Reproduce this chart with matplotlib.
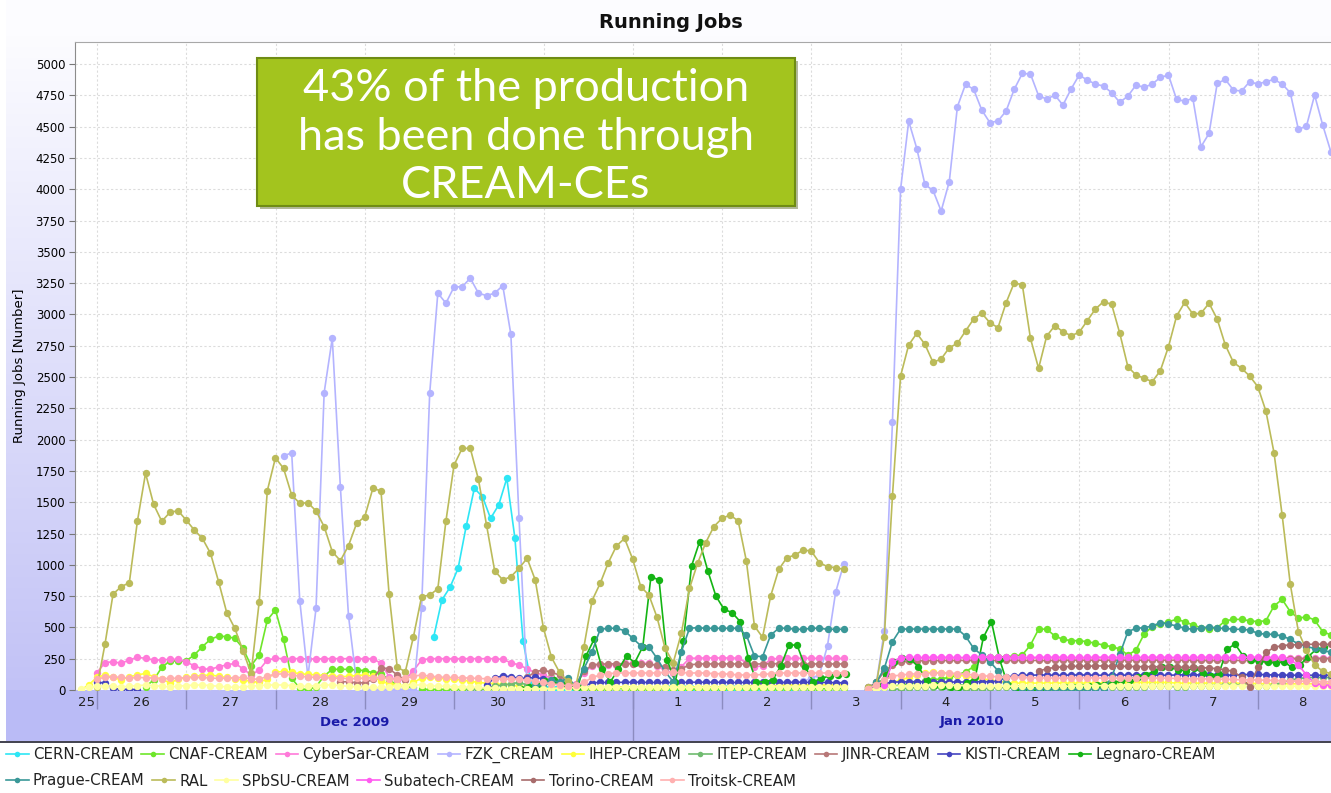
import numpy as np
import matplotlib
matplotlib.use("Agg")
import matplotlib.pyplot as plt
from matplotlib.lines import Line2D
from matplotlib.patches import Rectangle

# sampling grid: days since Dec 25 00:00, one point every 24/11 h
T0 = 0.8163
DT = 1.0 / 11

# each series: list of (start index on the grid, values)
CERN = [(43.5, [426, 719, 820, 972, 1310, 1611, 1544, 1371, 1478, 1691, 1211, 391, 53, 10, 5, 5, 3, 2]),
        (72.2, [12, 14, 14, 15, 15, 15, 14, 14, 15, 15, 14, 14, 14, 12, 12, 10])]

CNAF = [(8, [27, 80, 181, 232, 232, 232, 280, 346, 405, 431, 426, 413, 333, 194, 280, 559, 639,
             405, 93, 14, 0, 27, 112, 165, 165, 165, 160, 155, 138, 130, 80, 40, 27, 20]),
        (42, [5, 5, 5, 5, 5, 5, 5, 5, 5, 5, 5, 5, 5, 20, 40, 66, 100, 66, 32, 15]),
        (62, [10, 8, 8, 10, 12, 10, 8, 8, 10, 10, 12, 10, 10, 8, 8, 10, 10, 10, 12, 12, 10,
              10, 8, 8, 10, 10, 12, 12, 10, 10, 10, 12, 12]),
        (97, [5, 10, 20, 30, 40, 50, 60, 70, 80, 90, 100,
              120, 146, 186, 261, 261, 261, 266, 272, 280, 359, 485, 487, 431, 405, 394, 394,
              386, 373, 359, 346, 328, 280, 319, 447, 506, 527, 546, 564, 546, 519, 498, 485,
              498, 553, 564, 564, 553, 546, 553, 671, 724, 626, 572, 586, 559, 466, 440])]

CYBERSAR = [(2, [138, 218, 226, 213, 240, 261, 253, 240, 240, 245, 245, 226, 192, 170, 165, 186,
                 200, 213, 170, 120, 160, 240, 253,
                 250, 250, 250, 248, 248, 250, 250, 250, 250, 250, 250, 250,
                 213, 106, 80, 85, 154, 240,
                 250, 250, 250, 250, 250, 250, 250, 250, 250,
                 245, 218, 200, 170, 138, 120, 93, 66, 53, 48, 138, 192,
                 200, 200, 200, 213, 213, 213, 213, 192, 154, 138, 186,
                 253, 255, 256, 256, 256, 256, 255, 218, 186, 192, 245,
                 253, 253, 253, 253, 253, 253, 253, 253, 253]),
            (99, [60, 234, 253, 255, 256, 256, 256, 255, 255, 256, 256, 256, 255, 255, 256, 256,
                  256, 256, 255, 255, 256, 256, 256, 255, 255, 256, 256, 256, 256, 255, 255, 256,
                  256, 256, 255, 255, 256, 256, 256, 256, 255, 255, 256, 256, 256, 255, 255, 256,
                  256, 256, 256, 255, 255, 256, 256, 256])]

FZK = [(25, [1869, 1895, 711, 106, 652, 2375, 2810, 1619, 591, 58, 5, 5, 5, 5, 5, 5, 5, 652, 2370,
             3170, 3090, 3220, 3220, 3290, 3170, 3150, 3170, 3230, 2840, 1376, 30]),
       (86, [50, 53, 57, 70, 93, 120, 354, 780, 1006]),
       (97, [20, 48, 474, 2143,
             3999, 4543, 4325, 4038, 3990, 3826, 4060, 4659, 4838, 4798, 4633, 4532, 4545, 4625,
             4798, 4925, 4920, 4747, 4720, 4752, 4672, 4800, 4912, 4872, 4840, 4824, 4771, 4694,
             4744, 4832, 4814, 4840, 4893, 4912, 4717, 4704, 4726, 4339, 4446, 4845, 4877, 4792,
             4784, 4859, 4840, 4859, 4877, 4840, 4771, 4478, 4505, 4752, 4512, 4300])]

IHEP = [(0, [0, 40, 101, 120, 101, 80, 106, 120, 133, 106, 85, 58, 85, 100, 110, 115, 120, 110,
             100, 90, 80, 70, 60, 90, 140, 150, 140, 130, 125, 120, 115, 110, 105, 110, 115, 120,
             110, 70, 50, 40, 30, 60, 95, 100, 95, 90, 85, 80, 70, 60, 55, 50, 45, 40, 30, 20,
             15, 10, 10, 15, 20, 25, 25, 20, 20, 20, 25, 25, 25, 20, 20, 20, 20, 25, 25, 25, 25,
             25, 25, 25, 25, 25, 30, 30, 30, 30, 35, 40, 40, 40, 40, 40, 40, 40, 40]),
        (97, [5, 20, 40, 60, 80, 100, 120, 136, 140, 136, 130, 120, 110, 100, 90, 80, 70, 60, 55,
              55, 55, 55, 55, 55, 55, 55, 55, 55, 55, 55, 55, 60, 60, 60, 60, 60, 60, 60, 55, 55,
              55, 55, 55, 55, 55, 55, 55, 55, 50, 50, 50, 50, 50, 50, 50, 50, 50, 50])]

ITEP = [(48, [5, 10, 20, 30, 40, 50, 60, 40, 20, 10, 5]),
        (100, [5, 10, 15, 20, 20, 25, 25, 20, 15, 10, 10, 10, 15, 20, 20, 20, 25, 25, 20, 20, 15,
               15, 20, 20, 25, 25, 25, 20, 20, 20, 25, 25, 30, 30, 30, 25, 25, 30, 30, 35, 35, 40,
               40, 40, 35, 30, 30, 40, 60, 80, 90, 100, 100, 100, 100])]

JINR = [(32, [66, 66, 58, 58, 85, 178, 170, 120, 80]),
        (55, [100, 146, 160, 140, 120, 60, 40, 150, 200, 208, 208, 210, 210, 208, 208, 205, 200,
              180, 160, 170, 200, 208, 208, 208, 208, 208, 208, 208, 208, 208, 210, 210, 210, 208,
              208, 208, 208, 208, 208, 208]),
        (97, [20, 60, 150, 200, 220, 230, 232, 234, 235, 236, 236, 236, 236, 236, 236, 236, 236,
              236, 236, 236, 236, 236, 236, 236, 236, 238, 238, 238, 238, 238, 238, 238, 238, 238,
              238, 238, 238, 238, 238, 238, 238, 236, 236, 236, 236, 236, 236, 236, 236, 240, 245,
              250, 250, 250, 250, 250, 250, 250])]

KISTI = [(2, [66, 53, 13, 5, 5, 3]),
         (50, [40, 98, 112, 106, 93, 95, 100, 90, 70, 50, 30, 20, 30, 58,
               60, 60, 60, 62, 62, 62, 60, 60, 60, 60, 60, 62, 62, 62, 62, 62, 60, 60, 60, 60, 60,
               60, 60, 62, 62, 62, 60, 60, 60, 58, 58]),
         (97, [10, 30, 50, 64, 64, 66, 66, 66, 66, 64, 64, 64, 64, 66, 66, 66, 70, 100, 115, 118,
               118, 120, 120, 118, 118, 120, 120, 120, 118, 118, 120, 120, 118, 118, 120, 120, 118,
               118, 120, 122, 122, 120, 120, 118, 118, 120, 122, 124, 124, 122, 120, 120, 118, 118,
               118, 118, 118, 118])]

LEGNARO = [(54.25, [10, 20, 40, 70, 80, 50, 30, 20,
                    272, 405, 165, 66, 165, 272, 218, 346, 905, 879, 240, 63, 391, 990, 1185, 953,
                    751, 645, 618, 546, 253, 66, 66, 80, 192, 359, 359, 186, 66, 93, 112, 120, 128]),
           (98.2, [40, 120, 226, 253, 245, 186, 80, 40, 30, 25, 25, 53, 101, 421, 546, 245, 40, 13,
                   10, 10, 10, 15, 15, 20, 20, 25, 30, 40, 50, 60, 70, 80, 100, 120, 150, 180, 185,
                   160, 154, 178, 133, 112, 128, 325, 367, 272, 240, 226, 226, 213, 226, 181, 200,
                   266, 325, 340])]

PRAGUE = [(56, [30, 50, 80, 60, 98, 30, 170, 306,
                485, 493, 493, 474, 413, 354, 346, 253, 146, 66, 306, 493, 498, 493, 493, 493, 493,
                493, 439, 272, 266, 439, 493, 493, 485, 485, 493, 493, 485, 485, 485]),
          (97, [10, 60, 173, 386, 487, 487, 487, 487, 487, 487, 487, 487, 431, 333, 280, 226, 154,
                53, 20, 10, 10, 10, 10, 10, 10, 10, 10, 10, 10, 10, 100, 285, 466, 493, 498, 511,
                538, 527, 511, 493, 485, 493, 506, 493, 493, 485, 485, 479, 453, 445, 445, 431,
                405, 367, 346, 333, 319, 300])]

RAL = [(2, [20, 365, 767, 825, 857, 1350, 1731, 1482, 1347, 1419, 1432, 1358, 1278, 1211, 1092,
            865, 618, 492, 314, 133, 705, 1592, 1855, 1770, 1557, 1491, 1496, 1430, 1305, 1105,
            1033, 1153, 1331, 1384, 1611, 1590, 764, 181, 147, 426, 745, 759, 807, 1350, 1797,
            1930, 1930, 1683, 1318, 953, 879, 905, 972, 1052, 879, 498, 261, 140, 70, 30,
            346, 714, 852, 1017, 1150, 1211, 1046, 825, 759, 581, 333, 218, 453, 812, 1012, 1177,
            1305, 1371, 1398, 1350, 1033, 511, 421, 751, 964, 1057, 1078, 1118, 1110, 1017, 985,
            977, 964]),
       (97, [20, 40, 426, 1550, 2508, 2756, 2849, 2761, 2617, 2644, 2734, 2769, 2867, 2963, 3009,
             2934, 2894, 3093, 3253, 3235, 2809, 2569, 2827, 2910, 2862, 2830, 2857, 2950, 3043,
             3102, 3080, 2849, 2582, 2516, 2490, 2463, 2551, 2742, 2987, 3096, 3003, 3009, 3089,
             2963, 2756, 2617, 2569, 2508, 2423, 2228, 1895, 1398, 847, 466, 319, 200, 150, 130])]

SPBSU = [(0, [10, 20, 30, 35, 30, 25, 30, 35, 40, 35, 30, 25, 30, 35, 40, 40, 35, 30, 25, 20, 25,
              30, 35, 40, 40, 40, 35, 30, 30, 35, 40, 40, 35, 30, 25, 20, 20, 20, 25, 30, 35, 40,
              40, 35, 30, 30, 25, 25, 20, 20, 15, 15, 10, 10, 10, 10, 10, 10, 10, 15, 15, 20, 20,
              20, 20, 20, 20, 20, 20, 20, 20, 20, 20, 20, 20, 20, 20, 20, 20, 20, 25, 25, 25, 25,
              25, 25, 25, 25, 25, 25, 25, 25, 25, 25, 25]),
         (97, [5, 10, 20, 30, 30, 35, 35, 35, 40, 40, 40, 35, 35, 30, 30, 30, 30, 30, 30, 30, 30,
               30, 30, 30, 30, 30, 35, 35, 35, 35, 35, 35, 35, 35, 35, 35, 35, 35, 35, 35, 35, 35,
               35, 35, 35, 35, 35, 35, 30, 30, 30, 30, 30, 30, 30, 30, 30, 30])]

SUBATECH = [(99, [40, 220, 258, 260, 260, 260, 262, 262, 262, 260, 260, 260, 262, 262, 262, 262,
                  260, 260, 260, 262, 262, 262, 262, 260, 260, 260, 262, 262, 262, 260, 260, 260,
                  262, 262, 262, 262, 260, 260, 260, 262, 262, 262, 260, 260, 260, 262, 262, 262,
                  260, 260, 240, 200, 120, 53, 40, 40])]

TORINO = [(118, [150, 170, 180, 185, 188, 190, 190, 192, 192, 190, 190, 188, 186, 186, 186, 185,
                 185, 184, 182, 180, 178, 176, 170, 160, 150, 100, 27, 180, 300, 340, 355, 360,
                 362, 365, 365, 365, 365])]

TROITSK = [(2, [90, 100, 105, 100, 95, 100, 98, 95, 90, 92, 95, 98, 100, 100, 96, 92, 95, 98, 100,
                90, 85, 110, 125, 130, 120, 110, 105, 100, 100, 95, 95, 90, 92, 95, 98, 100, 90,
                85, 95, 110, 120, 110, 105, 100, 100, 98, 95, 92, 90, 90, 88, 86, 84, 80, 70, 60,
                50, 40, 35, 40, 60, 100, 120, 130, 136, 136, 136, 136, 136, 136, 140, 140, 140,
                136, 136, 136, 130, 130, 126, 120, 120, 120, 124, 130, 136, 136, 136, 136, 136,
                136, 136, 136, 136]),
           (97, [10, 40, 80, 110, 120, 125, 130, 130, 136, 136, 136, 130, 126, 120, 115, 110, 105,
                 100, 100, 100, 98, 96, 96, 95, 95, 96, 98, 98, 96, 95, 95, 94, 94, 95, 96, 96, 95,
                 94, 92, 90, 90, 90, 88, 86, 86, 84, 82, 80, 80, 78, 76, 74, 72, 70, 70, 68, 66, 66])]

names = ["CERN-CREAM", "CNAF-CREAM", "CyberSar-CREAM", "FZK_CREAM", "IHEP-CREAM", "ITEP-CREAM",
         "JINR-CREAM", "KISTI-CREAM", "Legnaro-CREAM", "Prague-CREAM", "RAL", "SPbSU-CREAM",
         "Subatech-CREAM", "Torino-CREAM", "Troitsk-CREAM"]
series = [CERN, CNAF, CYBERSAR, FZK, IHEP, ITEP, JINR, KISTI, LEGNARO, PRAGUE, RAL, SPBSU,
          SUBATECH, TORINO, TROITSK]
colors = ["#2ee6f5", "#6ee62a", "#ff7ad9", "#b4b4ff", "#ffff3a", "#70bb70", "#b87878", "#4444c0",
          "#14b414", "#3a9898", "#bbbb5a", "#ffffa0", "#ff5cf0", "#a86c6c", "#ffb0b0"]
draw_order = [14, 11, 4, 7, 5, 13, 6, 2, 12, 9, 1, 3, 10, 0, 8]

day_labels = ["25", "26", "27", "28", "29", "30", "31", "1", "2", "3", "4", "5", "6", "7", "8"]
midnights = np.arange(1, 15)
label_pos = np.r_[0.88, np.arange(1.5, 15, 1.0)]


def build(segments):
    ts, vs = [], []
    for start, vals in segments:
        t = T0 + (start + np.arange(len(vals))) * DT
        ts.extend(t)
        vs.extend(vals)
        ts.append(np.nan)
        vs.append(np.nan)
    return np.array(ts), np.array(vs, dtype=float)


W, H = 1331, 793
fig = plt.figure(figsize=(W / 100, H / 100), dpi=100)

# background: white -> lavender gradient, x-axis band, dark rule, white legend area
img = np.ones((H, W, 3))
yy = np.arange(H)
top = np.array([252, 252, 255]) / 255
low = np.array([194, 194, 246]) / 255
frac = np.clip((yy - 35) / (689 - 35), 0, 1)[:, None]
img[:, :, :] = (top * (1 - frac) + low * frac)[:, None, :]
img[690:741] = np.array([186, 187, 246]) / 255
img[741:743] = np.array([70, 70, 82]) / 255
img[743:] = 1.0
img[:741, :6] = 1.0
bg = fig.add_axes([0, 0, 1, 1], zorder=-10)
bg.imshow(img, aspect="auto", extent=[0, 1, 0, 1], interpolation="nearest")
bg.axis("off")

ax = fig.add_axes([75 / W, 1 - 690 / H, 1 - 75 / W, (690 - 42) / H])
ax.set_facecolor("white")
ax.set_xlim(0.7536, 14.818)
ax.set_ylim(0, 5176)

for i in draw_order:
    t, v = build(series[i])
    ax.plot(t, v, "-", marker="o", color=colors[i], lw=1.2, ms=5.3, mew=0, zorder=3 + i * 0.01)

for s in ["right", "bottom"]:
    ax.spines[s].set_visible(False)
ax.spines["left"].set_color("#8c8c8c")
ax.spines["top"].set_color("#a8a8a8")

ax.set_yticks(np.arange(0, 5001, 250))
ax.tick_params(axis="y", length=4, color="#777777", labelsize=8.5, pad=3)
ax.set_xticks(midnights)
ax.set_xticks(label_pos, minor=True)
ax.set_xticklabels(day_labels, minor=True)
ax.tick_params(axis="x", which="major", labelbottom=False, length=14, color="#8c8cc0", width=1)
ax.tick_params(axis="x", which="minor", length=0, pad=4, labelsize=9.5, labelcolor="#222222")
ax.grid(True, which="major", color="#dcdcdc", ls=(0, (2, 2)), lw=0.8)
ax.set_axisbelow(True)
ax.set_ylabel("Running Jobs [Number]", fontsize=9.5, labelpad=7)

# month boundary (Jan 1 00:00) runs the full height of the band
xt = ax.get_xaxis_transform()
ax.add_line(Line2D([7, 7], [0, -50 / 648], transform=xt, clip_on=False, color="#8c8cc0", lw=1))
for xpos, txt in [(3.89, "Dec 2009"), (10.8, "Jan 2010")]:
    ax.text(xpos, -32 / 648, txt, transform=xt, ha="center", va="center", fontsize=9.5,
            fontweight="bold", color="#1a1aa8")

fig.text(671 / W, 1 - 22 / H, "Running Jobs", ha="center", va="center", fontsize=14,
         fontweight="bold", color="#111111")

# annotation box
fig.add_artist(Rectangle((260 / W, 1 - 209 / H), 538 / W, 148 / H, transform=fig.transFigure,
                         fc="#b2b99a", ec="none", zorder=8))
fig.add_artist(Rectangle((257 / W, 1 - 206 / H), 538 / W, 148 / H, transform=fig.transFigure,
                         fc="#a3c41e", ec="#6f8c14", lw=1.5, zorder=9))
fig.text(526 / W, 1 - 137 / H, "43% of the production\nhas been done through\nCREAM-CEs",
         ha="center", va="center", color="white", fontsize=32.5, family="Lato", weight="normal",
         linespacing=1.22, zorder=10)

# legend, two flowing rows
handles = [Line2D([], [], color=c, lw=1.2, marker="o", ms=4, mew=0) for c in colors]
for rows, ypix in [(range(0, 9), 755), (range(9, 15), 781)]:
    leg = fig.legend([handles[i] for i in rows], [names[i] for i in rows], ncol=len(rows),
                     loc="center left", bbox_to_anchor=(6 / W, 1 - ypix / H), frameon=False,
                     fontsize=10.8, handlelength=1.5, handletextpad=0.3, columnspacing=0.5,
                     borderpad=0, borderaxespad=0)
    for txt in leg.get_texts():
        txt.set_color("#222222")

fig.savefig("out.png", dpi=100)
